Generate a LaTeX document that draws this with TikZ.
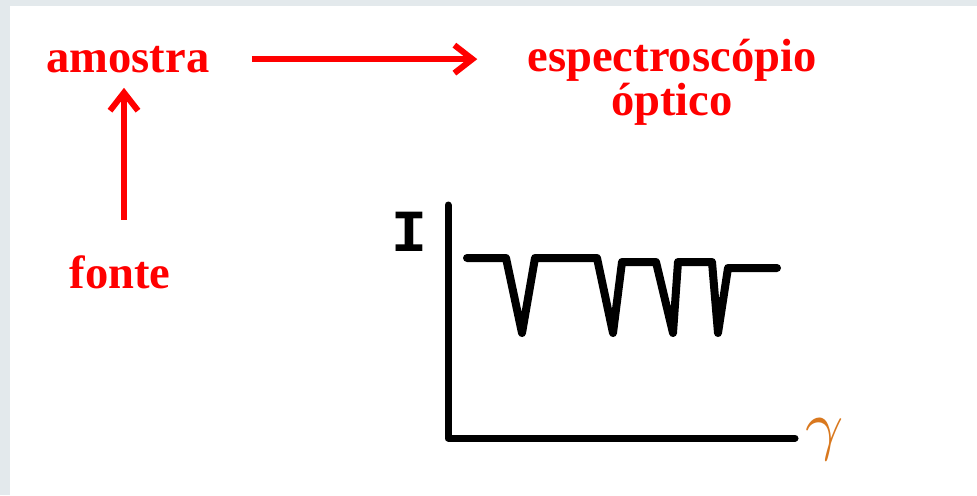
\documentclass[tikz,border=0pt]{standalone}
\usepackage{fontspec}
\setmainfont{Liberation Serif}
\newfontfamily\monofonte{Liberation Mono}
\usetikzlibrary{arrows.meta,positioning}
\definecolor{fundo}{HTML}{E3E9EC}
\definecolor{laranja}{HTML}{D9781E}
\begin{document}
\begin{tikzpicture}[x=0.02cm,y=-0.02cm,
  rotulo/.style={text=red,font=\fontsize{26.5}{24.5}\selectfont\bfseries,inner sep=0pt},
  seta/.style={red,line width=0.12cm,-{Straight Barb[length=0.36cm,width=0.56cm]}},
  eixo/.style={line width=0.14cm,line cap=round,line join=round},
  sinal/.style={line width=0.16cm,line cap=round,line join=round}]
\fill[fundo] (0,0) rectangle (977,495);
\fill[white] (10,6) rectangle (977,495);
\useasboundingbox (0,0) rectangle (977,495);
\node[rotulo,anchor=base] (amostra) at (128,72) {amostra};
\node[rotulo,anchor=base] (fonte) at (120,288) {fonte};
\node[rotulo,anchor=base,align=center] (espectro) at (672,115) {espectroscópio\\óptico};
\draw[seta,shorten <=0.84cm,shorten >=1.0cm] (amostra.east) -- (espectro.west |- amostra.east);
\draw[seta,shorten <=0.7cm,shorten >=0.3cm] ([xshift=0.08cm]fonte.north) -- ([xshift=0.08cm]fonte.north |- amostra.south);
% grafico
\coordinate (origem) at (448,438);
\coordinate (ytopo) at (448,205);
\coordinate (xfim) at (795,438);
\draw[eixo] (ytopo) -- (origem) -- (xfim);
\node[font=\monofonte\fontsize{34}{34}\selectfont\bfseries,inner sep=0pt] (I) at (409,232) {I};
\node[text=laranja,inner sep=0pt] (gama) at (825,440) {\scalebox{3.8}{$\gamma$}};
\draw[sinal] (467,258) -- (506,258) -- (522,333) -- (535,258) -- (597,258) -- (613,333)
  -- (622,262) -- (656,262) -- (673,333) -- (678,262) -- (712,262) -- (718,333)
  -- (728,268) -- (777,268);
\end{tikzpicture}
\end{document}
